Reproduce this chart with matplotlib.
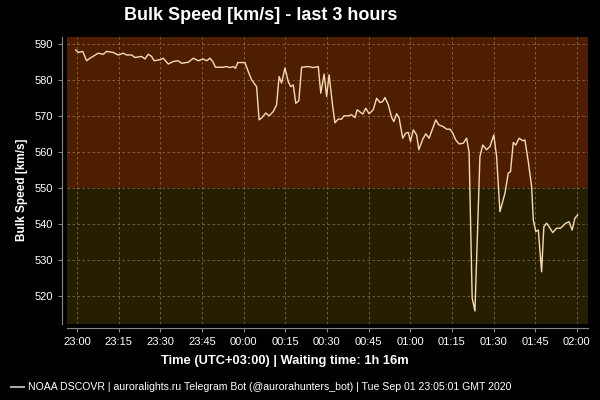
import matplotlib
matplotlib.use("Agg")
import matplotlib.pyplot as plt
import matplotlib.dates as mdates
from matplotlib.lines import Line2D
import pandas as pd

plt.rcParams['font.family'] = ['Liberation Sans', 'DejaVu Sans']

# minutes after 23:00 local time, and bulk speed in km/s
minutes = [-0.4, 0.5, 2.1, 3.5, 4.7, 7.7, 9.5, 10.7, 13.1, 14.9, 16.7, 17.9, 19.7, 20.9,
           23.3, 24.5, 25.7, 26.9, 27.8, 29.9, 31.1, 32.9, 34.7, 36.5, 37.7, 40.1, 41.9,
           43.7, 45.5, 46.7, 47.9, 48.9, 49.9, 52.7, 53.9, 55.1, 56.3, 57.1, 57.9, 60.5,
           61.7, 62.9, 64.7, 65.6, 66.5, 68.0, 69.2, 70.7, 71.9, 72.8, 73.7, 74.9, 76.1,
           77.0, 77.9, 78.8, 79.9, 80.9, 83.3, 85.1, 86.9, 87.8, 89.0, 89.9, 90.8, 92.1,
           92.9, 94.1, 95.3, 96.1, 97.7, 98.9, 100.1, 100.9, 102.9, 104.0, 105.2, 106.7,
           107.9, 109.1, 110.1, 110.9, 112.1, 113.3, 114.1, 115.1, 116.0, 117.3, 118.4,
           119.3, 120.1, 121.1, 122.3, 123.1, 124.5, 125.6, 126.8, 128.1, 129.2, 130.3,
           131.9, 133.1, 134.3, 135.3, 136.4, 137.6, 139.1, 140.3, 141.2, 142.3, 143.3,
           145.1, 146.1, 147.5, 148.7, 150.1, 151.1, 152.3, 154.1, 155.3, 156.1, 157.1,
           158.0, 159.2, 160.5, 161.3, 162.5, 163.7, 164.3, 165.2, 166.1, 167.3, 168.1,
           169.1, 170.0, 171.3, 172.7, 174.1, 176.0, 177.2, 178.3, 179.3, 180.3]
speed = [588.3, 587.6, 587.9, 585.3, 586.0, 587.4, 587.1, 587.9, 587.6, 586.9, 587.4, 586.9,
         586.9, 586.2, 586.5, 585.8, 587.1, 586.5, 585.3, 585.6, 586.0, 584.4, 585.1, 585.3,
         584.6, 584.9, 586.0, 585.3, 585.8, 585.3, 586.0, 585.1, 583.5, 583.5, 583.7, 583.4,
         583.7, 583.2, 584.8, 584.8, 582.3, 580.0, 578.1, 568.9, 569.4, 570.8, 570.0, 571.2,
         573.1, 580.9, 579.1, 583.3, 579.5, 578.1, 578.6, 573.5, 574.2, 583.5, 583.7, 583.4,
         583.7, 576.3, 581.6, 575.4, 581.4, 572.6, 568.1, 569.1, 569.1, 570.0, 570.0, 570.3,
         569.5, 571.7, 570.5, 572.1, 570.6, 571.7, 574.9, 573.7, 574.0, 575.1, 573.1, 569.6,
         568.4, 570.6, 569.4, 563.8, 565.2, 565.4, 562.9, 566.1, 564.7, 560.6, 563.5, 565.0,
         563.8, 566.6, 568.9, 567.5, 567.0, 566.3, 566.3, 565.2, 563.3, 562.2, 562.4, 563.8,
         559.8, 519.4, 515.8, 558.7, 561.9, 560.6, 561.5, 564.7, 558.7, 543.4, 548.5, 554.1,
         554.5, 562.6, 561.9, 563.8, 563.1, 563.3, 557.3, 550.4, 541.1, 537.9, 538.3, 526.7,
         539.2, 540.2, 539.2, 537.6, 538.8, 538.8, 540.2, 540.6, 538.3, 541.6, 542.5]

start = pd.Timestamp("2020-09-01 23:00")
times = start + pd.to_timedelta(minutes, unit="min")
threshold = 550

fig = plt.figure(figsize=(6, 4), dpi=100, facecolor="black")
ax = fig.add_axes([0.111, 0.19, 0.869, 0.7175])
ax.set_facecolor("black")

x0 = start - pd.Timedelta(minutes=3.7)
x1 = start + pd.Timedelta(minutes=184)
ax.set_xlim(x0, x1)
ax.set_ylim(512.2, 591.9)
ax.axhspan(threshold, 600, color="#4d1f00", zorder=0)
ax.axhspan(500, threshold, color="#261e00", zorder=0)

ax.plot(times, speed, color="#f6dcb0", lw=1.0, zorder=3)

ax.set_yticks([520, 530, 540, 550, 560, 570, 580, 590])
ax.xaxis.set_major_locator(mdates.MinuteLocator(byminute=[0, 15, 30, 45]))
ax.xaxis.set_major_formatter(mdates.DateFormatter("%H:%M"))
ax.grid(True, color="#e0c090", alpha=0.45, ls=(0, (3, 3)), lw=0.6, zorder=1)

for s in ["top", "right"]:
    ax.spines[s].set_visible(False)
for s in ["left", "bottom"]:
    ax.spines[s].set_color("#888888")
    ax.spines[s].set_position(("outward", 3))
ax.tick_params(colors="#888888", labelcolor="white", labelsize=8, length=3)

fig.text(0.435, 0.962, "Bulk Speed [km/s] - last 3 hours", color="white",
         fontsize=13, fontweight="bold", ha="center", va="center")
fig.text(0.475, 0.097, "Time (UTC+03:00) | Waiting time: 1h 16m", color="white",
         fontsize=9.3, fontweight="bold", ha="center", va="center")
fig.text(0.037, 0.525, "Bulk Speed [km/s]", color="white", fontsize=8.5,
         fontweight="bold", rotation=90, ha="center", va="center")

handle = Line2D([], [], color="#aaaaaa", lw=1.5)
fig.legend([handle], ["NOAA DSCOVR | auroralights.ru Telegram Bot (@aurorahunters_bot) | Tue Sep 01 23:05:01 GMT 2020"],
           loc="center", bbox_to_anchor=(0.435, 0.032), frameon=False, fontsize=7.6,
           labelcolor="white", handlelength=1.2, handletextpad=0.4)

fig.savefig("out.png", dpi=100, facecolor="black")
